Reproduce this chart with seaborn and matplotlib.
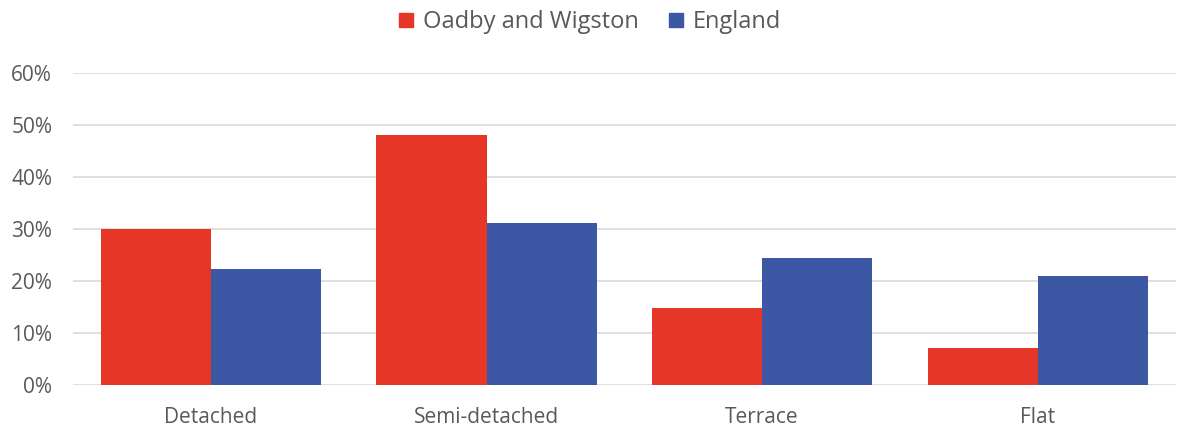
import matplotlib
matplotlib.use("Agg")
import matplotlib.pyplot as plt
import seaborn as sns
import pandas as pd
from matplotlib.lines import Line2D
from matplotlib.ticker import FuncFormatter

categories = ["Detached", "Semi-detached", "Terrace", "Flat"]
oadby = [30.0, 48.1, 14.7, 7.0]
england = [22.3, 31.2, 24.4, 21.0]
series_names = ["Oadby and Wigston", "England"]
colors = ["#E53627", "#3C57A4"]

df = pd.DataFrame({
    "category": categories * 2,
    "value": oadby + england,
    "series": [series_names[0]] * 4 + [series_names[1]] * 4,
})

sns.set_theme(style="white")
plt.rcParams["font.family"] = ["Open Sans", "DejaVu Sans"]
text_color = "#595959"

fig = plt.figure(figsize=(11.78, 4.30), dpi=100)
ax = fig.add_axes([0.062, 0.105, 0.936, 0.725])

sns.barplot(data=df, x="category", y="value", hue="series", order=categories,
            hue_order=series_names, palette=colors, width=0.8, ax=ax,
            legend=False, edgecolor="none", linewidth=0, saturation=1)

ax.set_ylim(0, 60)
ax.set_xlim(-0.5, 3.5)
ax.set_yticks(range(0, 61, 10))
ax.yaxis.set_major_formatter(FuncFormatter(lambda v, p: f"{int(v)}%"))
ax.grid(axis="y", color="#D9D9D9", linewidth=1.2)
ax.set_axisbelow(True)
for s in ax.spines.values():
    s.set_visible(False)
ax.set_xlabel("")
ax.set_ylabel("")
ax.tick_params(axis="both", length=0, labelsize=15, colors=text_color)
ax.tick_params(axis="y", pad=15)
ax.tick_params(axis="x", pad=16)

handles = [Line2D([0], [0], marker="s", linestyle="none", markersize=10,
                  markerfacecolor=c, markeredgecolor=c) for c in colors]
fig.legend(handles, series_names, loc="upper center", bbox_to_anchor=(0.5, 1.025),
           ncol=2, frameon=False, fontsize=17, labelcolor=text_color,
           handlelength=0.8, handletextpad=0.3, columnspacing=1.2)

fig.savefig("out.png", dpi=100)
